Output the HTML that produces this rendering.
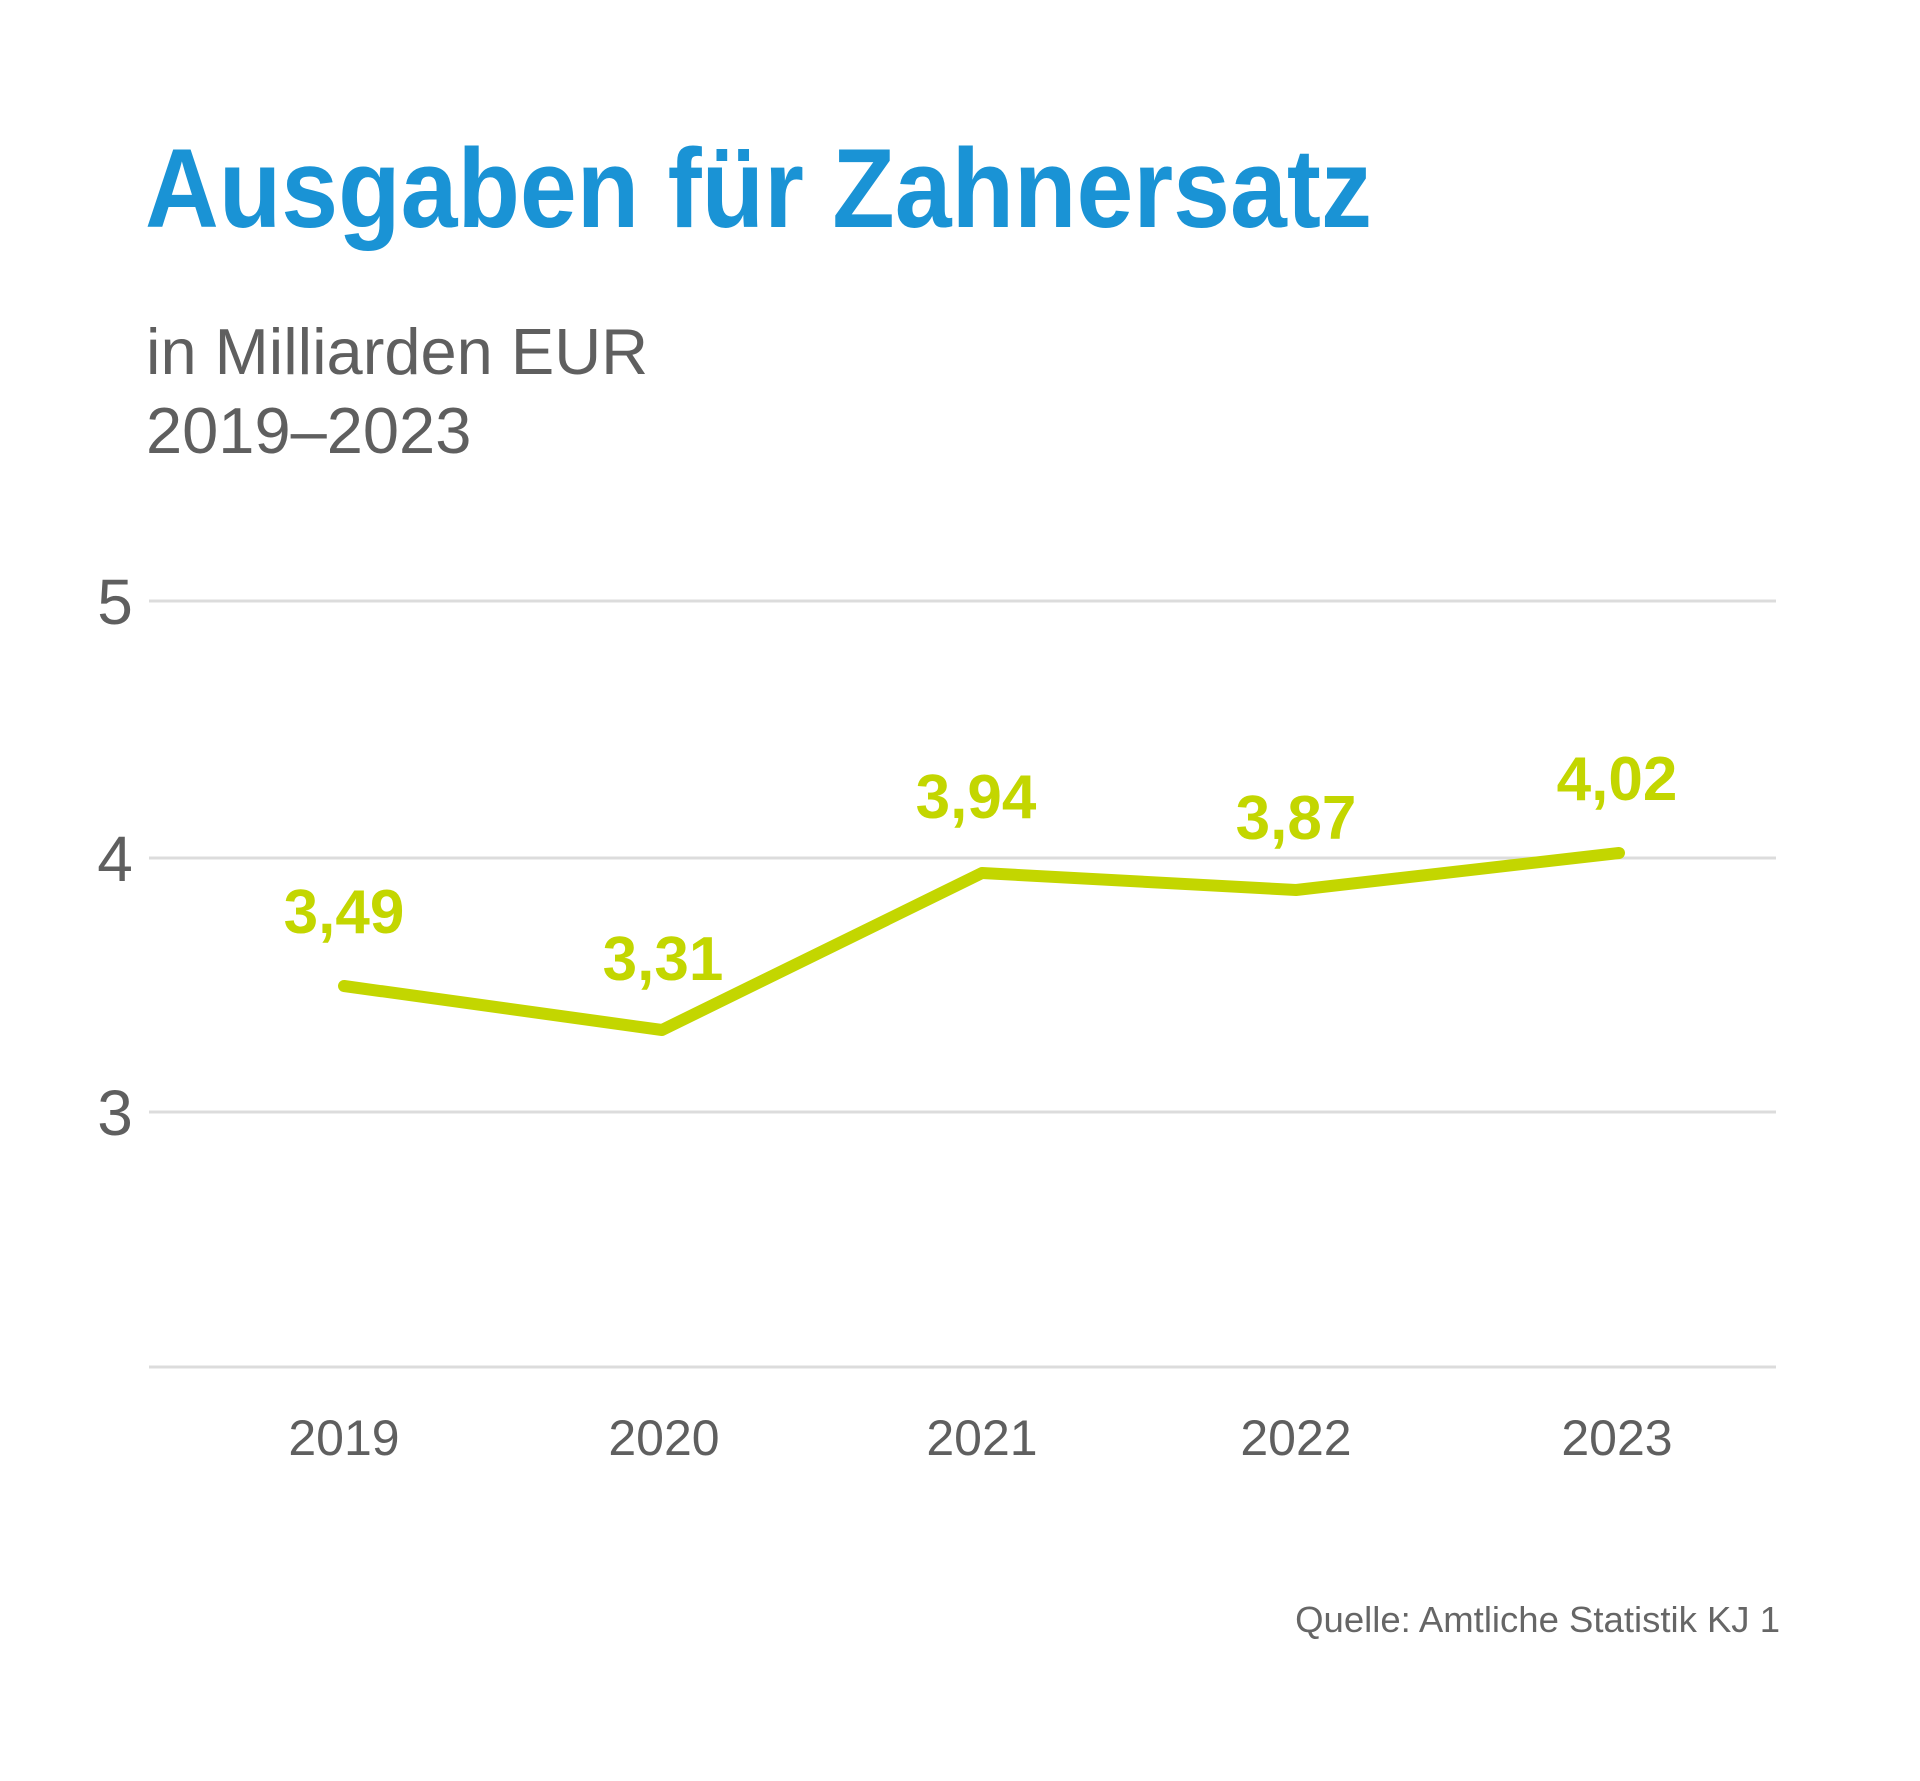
<!DOCTYPE html>
<html><head><meta charset="utf-8"><style>
html,body{margin:0;padding:0;background:#fff}
svg{display:block}
</style></head><body>
<svg width="1920" height="1781" viewBox="0 0 1920 1781" xmlns="http://www.w3.org/2000/svg">
<rect width="1920" height="1781" fill="#fff"/>
<text x="145" y="227" font-family="Liberation Sans, sans-serif" font-size="112" font-weight="bold" fill="#1a93d5" textLength="1227" lengthAdjust="spacingAndGlyphs">Ausgaben für Zahnersatz</text>
<g font-family="Liberation Sans, sans-serif" fill="#5f5f5f" font-size="65">
<text x="146" y="374">in Milliarden EUR</text>
<text x="146" y="453">2019–2023</text>
</g>
<g stroke="#dcdcdc" stroke-width="3">
<line x1="149" y1="601" x2="1776" y2="601"/>
<line x1="149" y1="858" x2="1776" y2="858"/>
<line x1="149" y1="1112" x2="1776" y2="1112"/>
<line x1="149" y1="1367" x2="1776" y2="1367"/>
</g>
<g font-family="Liberation Sans, sans-serif" fill="#5f5f5f" font-size="64" text-anchor="middle">
<text x="115" y="624">5</text>
<text x="115" y="881">4</text>
<text x="115" y="1135">3</text>
</g>
<g font-family="Liberation Sans, sans-serif" fill="#5f5f5f" font-size="50" text-anchor="middle">
<text x="344" y="1455">2019</text>
<text x="664" y="1455">2020</text>
<text x="982" y="1455">2021</text>
<text x="1296" y="1455">2022</text>
<text x="1617" y="1455">2023</text>
</g>
<polyline points="344,986 662,1030 982,873 1296,890 1619,853" fill="none" stroke="#c3d600" stroke-width="12" stroke-linecap="round" stroke-linejoin="round"/>
<g font-family="Liberation Sans, sans-serif" fill="#c3d600" font-size="62" font-weight="bold" text-anchor="middle">
<text x="344" y="933">3,49</text>
<text x="663" y="980">3,31</text>
<text x="976" y="818">3,94</text>
<text x="1296" y="839">3,87</text>
<text x="1617" y="800">4,02</text>
</g>
<text x="1780" y="1632" font-family="Liberation Sans, sans-serif" font-size="36.5" fill="#666" text-anchor="end">Quelle: Amtliche Statistik KJ 1</text>
</svg>
</body></html>
